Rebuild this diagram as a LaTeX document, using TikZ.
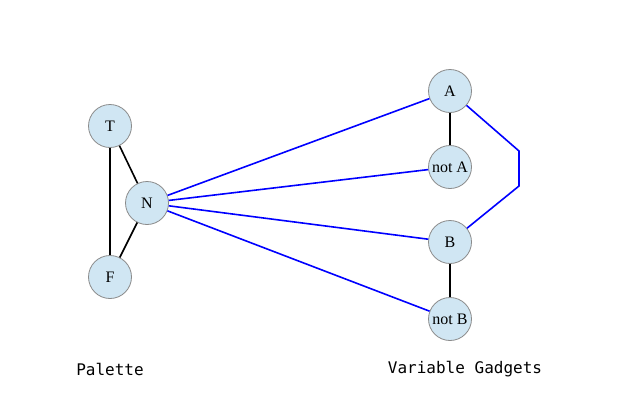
\documentclass[tikz,border=0pt]{standalone}
\usepackage{fontspec}
\setmainfont{Liberation Serif}
\setmonofont{DejaVu Sans Mono}
\usetikzlibrary{positioning}
\definecolor{nodefill}{HTML}{D0E6F3}
\definecolor{nodeline}{HTML}{8A8A8A}

\begin{document}
\begin{tikzpicture}[x=1pt,y=-1pt,
  vnode/.style={circle,draw=nodeline,fill=nodefill,line width=0.8pt,minimum size=43pt,inner sep=0pt,font=\fontsize{16}{16}\selectfont},
  pal/.style={black,line width=1.6pt},
  wire/.style={blue,line width=1.6pt},
  caption/.style={font=\ttfamily\fontsize{16}{16}\selectfont}]
\useasboundingbox (0,0) rectangle (623,413);
\node[vnode] (T) at (110,126) {T};
\node[vnode] (N) at (147,203) {N};
\node[vnode] (F) at (110,277) {F};
\node[vnode] (A) at (450,91) {A};
\node[vnode] (nA) at (450,167) {not A};
\node[vnode] (B) at (450,242) {B};
\node[vnode] (nB) at (450,319) {not B};
\coordinate (c1) at (519,151);
\coordinate (c2) at (519,186);
% palette triangle
\draw[pal] (T) -- (N);
\draw[pal] (T) -- (F);
\draw[pal] (N) -- (F);
% gadgets
\draw[pal] (A) -- (nA);
\draw[pal] (B) -- (nB);
\draw[wire] (N) -- (A);
\draw[wire] (N) -- (nA);
\draw[wire] (N) -- (B);
\draw[wire] (N) -- (nB);
\draw[wire] (A) -- (c1) -- (c2) -- (B);
\node[caption] (pcap) at (110,369) {Palette};
\node[caption] (gcap) at (465,369) {Variable Gadgets};
\end{tikzpicture}
\end{document}
